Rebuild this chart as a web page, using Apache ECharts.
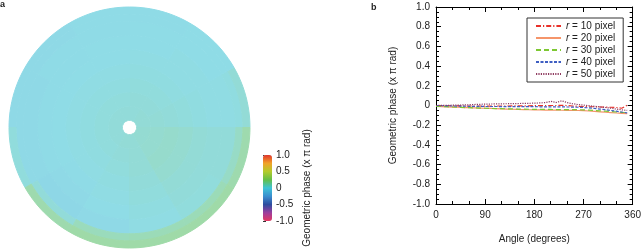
<!DOCTYPE html>
<html>
<head>
<meta charset="utf-8">
<script src="https://cdn.jsdelivr.net/npm/echarts@6/dist/echarts.min.js"></script>
<style>
  html, body { margin: 0; padding: 0; background: #fff; }
  #chart { width: 644px; height: 249px; }
</style>
</head>
<body>
<div id="chart"></div>
<script>
// angles of the line profiles (degrees)
const angles = [0, 10, 20, 30, 40, 50, 60, 70, 80, 90, 100, 110, 120, 130, 140, 150, 160, 170,
  180, 190, 200, 210, 220, 230, 240, 250, 260, 270, 280, 290, 300, 310, 320, 330, 340, 350]

// geometric phase (x pi rad) along the circles
const r10 = [0.000, 0.000, -0.002, -0.003, -0.004, -0.005, -0.005, -0.005, -0.005, -0.006, -0.006, -0.005,
  -0.005, -0.005, -0.004, -0.004, -0.003, -0.003, -0.002, -0.002, -0.001, 0.000, 0.000, 0.002,
  0.000, -0.005, -0.008, -0.010, -0.012, -0.013, -0.015, -0.017, -0.018, -0.020, -0.028, 0.003]
const r20 = [-0.010, -0.012, -0.014, -0.016, -0.018, -0.021, -0.022, -0.024, -0.026, -0.028, -0.030, -0.032,
  -0.034, -0.036, -0.038, -0.040, -0.041, -0.043, -0.044, -0.045, -0.046, -0.047, -0.047, -0.048,
  -0.049, -0.050, -0.051, -0.053, -0.056, -0.060, -0.064, -0.068, -0.072, -0.076, -0.080, -0.083]
const r30 = [-0.008, -0.010, -0.012, -0.015, -0.018, -0.020, -0.022, -0.024, -0.026, -0.028, -0.030, -0.031,
  -0.032, -0.034, -0.035, -0.036, -0.037, -0.038, -0.039, -0.040, -0.040, -0.040, -0.041, -0.041,
  -0.042, -0.042, -0.043, -0.044, -0.047, -0.050, -0.054, -0.058, -0.062, -0.066, -0.070, -0.072]
const r40 = [0.000, -0.002, -0.004, -0.005, -0.006, -0.007, -0.008, -0.008, -0.009, -0.010, -0.010, -0.010,
  -0.011, -0.011, -0.011, -0.012, -0.012, -0.012, -0.012, -0.013, -0.013, -0.013, -0.014, -0.014,
  -0.015, -0.016, -0.018, -0.020, -0.024, -0.030, -0.036, -0.042, -0.050, -0.058, -0.066, -0.075]
const r50 = [0.000, 0.001, 0.002, 0.003, 0.004, 0.006, 0.008, 0.010, 0.012, 0.014, 0.015, 0.016,
  0.017, 0.018, 0.019, 0.020, 0.021, 0.022, 0.024, 0.026, 0.030, 0.042, 0.030, 0.048,
  0.030, 0.018, 0.010, 0.004, -0.002, -0.008, -0.014, -0.020, -0.028, -0.036, -0.044, -0.050]

const seriesNames = ['r = 10 pixel', 'r = 20 pixel', 'r = 30 pixel', 'r = 40 pixel', 'r = 50 pixel']

// phase map (panel a): ring bins (radius units) from centre outwards,
// sectors of 30 deg counter-clockwise from +x
const mapSectors = [0, 30, 60, 90, 120, 150, 180, 210, 240, 270, 300, 330]
const mapRingEdges = [0.5, 1.5, 2.5, 3.5, 4.5, 5.5, 6.5, 7.5, 8.0, 8.5]
const phaseMap = [
  [0.05, 0.05, 0.04, 0.04, 0.04, 0.04, 0.04, 0.04, 0.05, 0.05, 0.06, 0.06],
  [0.05, 0.04, 0.04, 0.03, 0.03, 0.03, 0.03, 0.03, 0.04, 0.05, 0.07, 0.07],
  [0.04, 0.03, 0.03, 0.02, 0.02, 0.02, 0.02, 0.02, 0.03, 0.05, 0.08, 0.08],
  [0.03, 0.02, 0.02, 0.01, 0.01, 0.01, 0.01, 0.01, 0.02, 0.04, 0.07, 0.07],
  [0.02, 0.01, 0.01, 0.00, 0.00, 0.00, 0.00, -0.01, 0.01, 0.03, 0.05, 0.05],
  [0.01, 0.01, 0.00, 0.00, -0.01, -0.01, -0.01, -0.02, 0.00, 0.02, 0.04, 0.04],
  [0.01, 0.00, 0.00, -0.01, -0.01, -0.02, -0.02, -0.04, -0.02, 0.01, 0.03, 0.04],
  [0.02, 0.00, -0.01, -0.01, -0.02, -0.02, -0.02, 0.04, 0.13, 0.14, 0.14, 0.10],
  [0.05, 0.00, -0.01, -0.01, -0.02, -0.02, 0.03, 0.17, 0.19, 0.19, 0.19, 0.17]
]

// colour bar ticks
const barTicks = [-1.0, -0.5, 0, 0.5, 1.0]
const phaseColors = ['#E6375F', '#9C3E9E', '#2E4C9F', '#3A8ECF', '#3EC3D5', '#64BF48', '#B3CB2B', '#F1A22A', '#E2342B']

const font = 'Liberation Sans, Arial, sans-serif'

const chart = echarts.init(document.getElementById('chart'))

const mapData = []
phaseMap.forEach((row, ring) => {
  mapSectors.forEach((a, j) => {
    mapData.push([ring, a, row[j]])
  })
})

const fmt = (v) => (Math.abs(v) < 1e-9 ? '0' : v.toFixed(1))

const lineStyles = [
  { color: '#E8302A', type: [5, 2, 1.2, 2] },
  { color: '#F5956A', type: 'solid' },
  { color: '#7DC832', type: [5, 3] },
  { color: '#3E5EC2', type: [3, 1.5] },
  { color: '#8E3B5F', type: [1.2, 1.2] }
]
const lineData = [r10, r20, r30, r40, r50]

const boxAxis = {
  axisLine: { show: true, onZero: false, lineStyle: { color: '#000', width: 1 } },
  axisTick: { show: true, inside: true, length: 5, lineStyle: { color: '#000' } },
  minorTick: { show: true, length: 3, lineStyle: { color: '#000' } },
  splitLine: { show: false }
}

const option = {
  animation: false,
  textStyle: { fontFamily: font },
  title: [
    { text: 'a', left: 0, top: 0, padding: 0, textStyle: { fontSize: 9, fontWeight: 'bold', color: '#222', fontFamily: font } },
    { text: 'b', left: 371, top: 3, padding: 0, textStyle: { fontSize: 9, fontWeight: 'bold', color: '#222', fontFamily: font } }
  ],
  polar: { center: [129.5, 127.5], radius: 120.5 },
  angleAxis: { type: 'value', min: 0, max: 360, startAngle: 0, clockwise: false, show: false },
  radiusAxis: { type: 'value', min: 0, max: 8.5, show: false },
  grid: [
    { left: 436, top: 7, width: 199, height: 200 },
    { left: 263, top: 155, width: 9, height: 66 }
  ],
  xAxis: [
    Object.assign({}, boxAxis, {
      type: 'value', gridIndex: 0, min: 0, max: 360, interval: 90,
      minorTick: Object.assign({}, boxAxis.minorTick, { splitNumber: 3 }),
      axisLabel: { fontSize: 10, color: '#222', margin: 6 },
      name: 'Angle (degrees)', nameLocation: 'middle', nameGap: 30,
      nameTextStyle: { fontSize: 10, color: '#222' }
    }),
    Object.assign({}, boxAxis, {
      type: 'value', gridIndex: 0, position: 'top', min: 0, max: 360, interval: 90,
      minorTick: Object.assign({}, boxAxis.minorTick, { splitNumber: 3 }),
      axisLabel: { show: false }
    }),
    { type: 'value', gridIndex: 1, min: 0, max: 1, show: false }
  ],
  yAxis: [
    Object.assign({}, boxAxis, {
      type: 'value', gridIndex: 0, min: -1, max: 1, interval: 0.2,
      minorTick: Object.assign({}, boxAxis.minorTick, { splitNumber: 4 }),
      axisLabel: { fontSize: 10, color: '#222', margin: 6, formatter: fmt },
      name: 'Geometric phase (x π rad)', nameLocation: 'middle', nameGap: 38, nameRotate: 90,
      nameTextStyle: { fontSize: 10, color: '#222' }
    }),
    Object.assign({}, boxAxis, {
      type: 'value', gridIndex: 0, position: 'right', min: -1, max: 1, interval: 0.2,
      minorTick: Object.assign({}, boxAxis.minorTick, { splitNumber: 4 }),
      axisLabel: { show: false }
    }),
    {
      type: 'value', gridIndex: 1, position: 'right', min: barTicks[0], max: barTicks[barTicks.length - 1], interval: 0.5,
      axisLine: { show: false },
      axisTick: { show: true, length: 3, lineStyle: { color: '#333' } },
      splitLine: { show: false },
      axisLabel: { fontSize: 10, color: '#222', margin: 4, formatter: fmt },
      name: 'Geometric phase (x π rad)', nameLocation: 'middle', nameGap: 30, nameRotate: 90,
      nameTextStyle: { fontSize: 10, color: '#222' }
    }
  ],
  visualMap: {
    type: 'continuous', seriesIndex: 0, dimension: 2,
    min: -1, max: 1, calculable: false, orient: 'vertical',
    left: 263, top: 155, padding: 0, itemWidth: 9, itemHeight: 66,
    inRange: { color: phaseColors }
  },
  legend: {
    data: seriesNames, orient: 'vertical', left: 527, top: 18,
    padding: [3, 8, 3, 8], itemGap: 2, itemWidth: 25, itemHeight: 10,
    borderColor: '#333', borderWidth: 1, backgroundColor: '#fff',
    itemStyle: { opacity: 0 },
    formatter: (name) => '{i|r}' + name.slice(1),
    textStyle: { fontSize: 10, color: '#222', fontFamily: font, rich: { i: { fontStyle: 'italic', fontSize: 10, fontFamily: font } } }
  },
  series: [
    {
      type: 'custom',
      coordinateSystem: 'polar',
      data: mapData,
      silent: true,
      renderItem: function (params, api) {
        const ring = api.value(0)
        const rIn = mapRingEdges[ring]
        const rOut = mapRingEdges[ring + 1]
        const a0 = api.value(1)
        const a1 = a0 + 30
        const pts = []
        for (let k = 0; k <= 12; k++) pts.push(api.coord([rOut, a0 + (a1 - a0) * k / 12]))
        for (let k = 12; k >= 0; k--) pts.push(api.coord([rIn, a0 + (a1 - a0) * k / 12]))
        const c = echarts.color.lift(api.visual('color'), 0.42)
        return { type: 'polygon', shape: { points: pts }, style: { fill: c, stroke: c, lineWidth: 1 } }
      }
    }
  ].concat(lineData.map((d, i) => ({
    name: seriesNames[i],
    type: 'line',
    xAxisIndex: 0,
    yAxisIndex: 0,
    symbol: 'none',
    data: angles.map((a, k) => [a, d[k]]),
    lineStyle: { width: 1.2, color: lineStyles[i].color, type: lineStyles[i].type },
    itemStyle: { color: lineStyles[i].color }
  })))
}

chart.setOption(option)
</script>
</body>
</html>
